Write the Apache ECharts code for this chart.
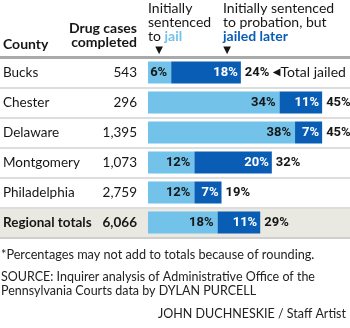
<!DOCTYPE html>
<html><head><meta charset="utf-8">
<script src="https://cdn.jsdelivr.net/npm/echarts@6/dist/echarts.min.js"></script>
<style>html,body{margin:0;padding:0;background:#fff}#c{width:350px;height:328px}</style>
</head><body><div id="c"></div>
<script>
const counties = ['Bucks','Chester','Delaware','Montgomery','Philadelphia','Regional totals'];
const casesCompleted = ['543','296','1,395','1,073','2,759','6,066'];
const jailInitially = [6,34,38,12,12,18];
const jailedLater = [18,11,7,20,7,11];
const totalJailed = [24,45,45,32,19,29];

const LIGHT = '#72c2e9', DARK = '#0a5db5', INK = '#161616';
const F = "Lato, sans-serif";
const N = "Roboto, sans-serif";

const chart = echarts.init(document.getElementById('c'), null, {renderer:'canvas'});
chart.setOption({
  animation:false,
  backgroundColor:'#fff',
  grid:{left:0,right:0,top:57.5,bottom:90.5,containLabel:false},
  xAxis:{type:'value',position:'top',min:-38.24,max:52.2,
    axisLine:{show:true,onZero:false,lineStyle:{color:'#aaa',width:3}},
    axisTick:{show:false},axisLabel:{show:false},splitLine:{show:false}},
  yAxis:{type:'category',data:counties,inverse:true,position:'left',
    axisLine:{show:false},axisTick:{show:false},
    axisLabel:{inside:true,margin:3,interval:0,
      formatter:(v,i)=> i===counties.length-1 ? `{nb|${v}}{cb|${casesCompleted[i]}}` : `{n|${v}}{c|${casesCompleted[i]}}`,
      rich:{
        n:{width:94,align:'left',fontFamily:F,fontSize:13.5,color:INK},
        c:{width:40,align:'right',fontFamily:F,fontSize:13.5,color:INK},
        nb:{width:94,align:'left',fontFamily:F,fontSize:13.5,fontWeight:'bold',color:INK},
        cb:{width:40,align:'right',fontFamily:F,fontSize:13.5,fontWeight:'bold',color:INK}
      }},
    splitLine:{show:true,lineStyle:{width:2,color:['#aaa','#ddd','#ddd','#ddd','#ddd','#ddd','#cfcfcf']}},
    splitArea:{show:true,areaStyle:{color:['rgba(0,0,0,0)','rgba(0,0,0,0)','rgba(0,0,0,0)','rgba(0,0,0,0)','rgba(0,0,0,0)','#e9e8e1']}}
  },
  series:[
    {type:'bar',name:'Initially sentenced to jail',stack:'a',data:jailInitially,barWidth:22,
     itemStyle:{color:LIGHT},
     label:{show:true,position:'insideRight',distance:4,formatter:'{c}%',fontFamily:N,fontSize:13,fontWeight:'bold',color:INK}},
    {type:'bar',name:'Jailed later',stack:'a',data:jailedLater,barWidth:22,
     itemStyle:{color:DARK},
     label:{show:true,position:'insideRight',distance:3,formatter:'{c}%',fontFamily:N,fontSize:13,fontWeight:'bold',color:'#fff'}},
    {type:'scatter',name:'Total jailed',data:totalJailed.map((t,i)=>[t,i]),symbolSize:0.01,
     itemStyle:{opacity:1,color:INK},
     label:{show:true,position:'right',distance:4,color:INK,
       formatter:p=> p.dataIndex===0 ? `{b|${p.value[0]}%} {a|◀}{t|Total jailed}` : `{b|${p.value[0]}%}`,
       rich:{
         b:{fontFamily:N,fontSize:13,fontWeight:'bold',color:INK},
         a:{fontFamily:'DejaVu Sans',fontSize:10,color:INK},
         t:{fontFamily:F,fontSize:14,color:INK}
       }}}
  ],
  graphic:[
    {type:'text',style:{text:'County',x:3,y:44,textVerticalAlign:'middle',font:`bold 14px ${F}`,fill:INK}},
    {type:'text',style:{text:'Drug cases\ncompleted',x:137,y:21,textAlign:'right',textVerticalAlign:'top',lineHeight:14,font:`bold 14px ${F}`,fill:INK}},
    {type:'text',style:{text:'Initially\nsentenced\nto {j|jail}',x:148,y:1,textVerticalAlign:'top',lineHeight:14,font:`14px ${F}`,fill:INK,
      rich:{j:{fontFamily:F,fontSize:14,fontWeight:'bold',fill:LIGHT,lineHeight:14}}}},
    {type:'text',style:{text:'Initially sentenced\nto probation, but\n{j|jailed later}',x:223,y:1,textVerticalAlign:'top',lineHeight:14,font:`14px ${F}`,fill:INK,
      rich:{j:{fontFamily:F,fontSize:14,fontWeight:'bold',fill:DARK,lineHeight:14}}}},
    {type:'text',style:{text:'▼',x:159,y:50,textAlign:'center',textVerticalAlign:'middle',font:`10px 'DejaVu Sans'`,fill:INK}},
    {type:'text',style:{text:'▼',x:227,y:50,textAlign:'center',textVerticalAlign:'middle',font:`10px 'DejaVu Sans'`,fill:INK}},
    {type:'text',style:{text:'*Percentages may not add to totals because of rounding.',x:1,y:255,textVerticalAlign:'middle',font:`12.7px ${F}`,fill:'#222'}},
    {type:'text',style:{text:'SOURCE: Inquirer analysis of Administrative Office of the\nPennsylvania Courts data by DYLAN PURCELL',x:1,y:270,textVerticalAlign:'top',lineHeight:14,font:`12.5px ${F}`,fill:'#222'}},
    {type:'text',style:{text:'JOHN DUCHNESKIE / Staff Artist',x:346,y:314,textAlign:'right',textVerticalAlign:'middle',font:`12.5px ${F}`,fill:'#222'}}
  ]
});
</script></body></html>
